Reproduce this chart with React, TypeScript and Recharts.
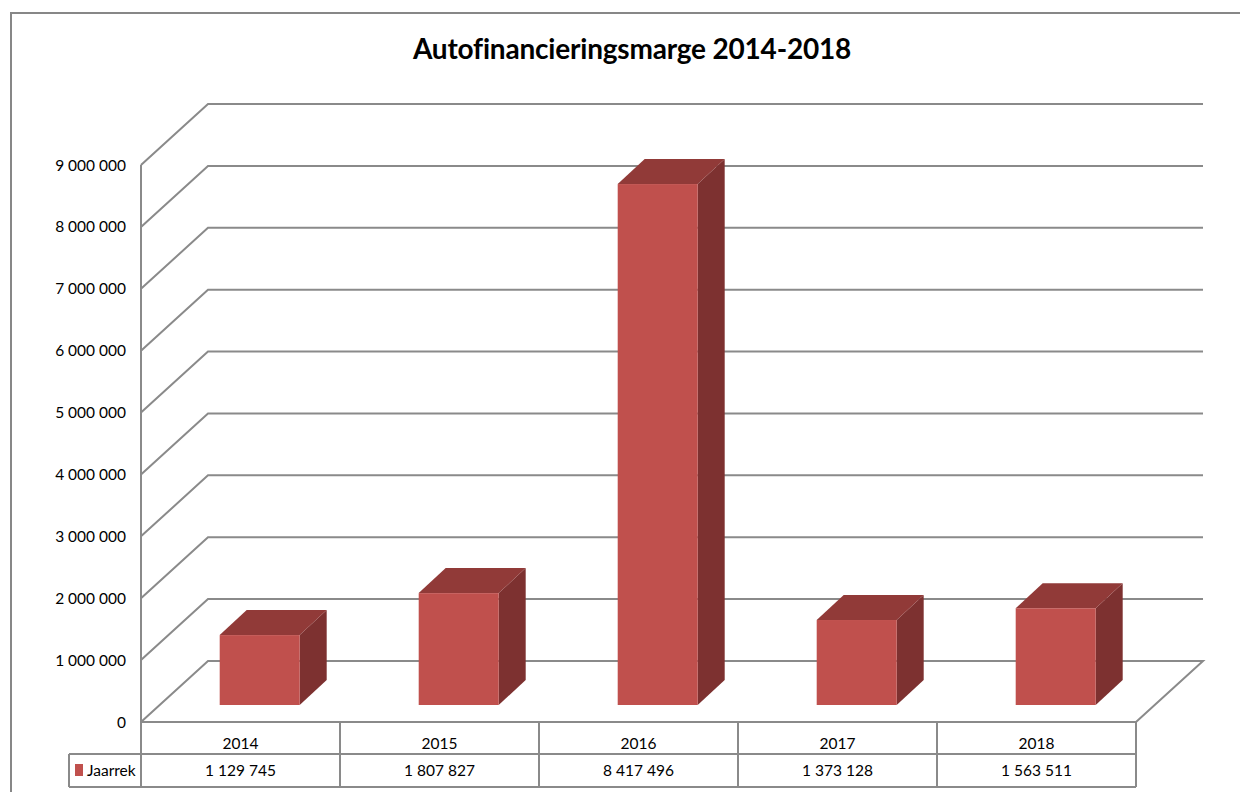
import { BarChart, Bar, XAxis, YAxis, CartesianGrid } from "recharts";

const years = ["2014", "2015", "2016", "2017", "2018"];
const jaarrek = [1129745, 1807827, 8417496, 1373128, 1563511];
const yTicks = [0, 1000000, 2000000, 3000000, 4000000, 5000000, 6000000, 7000000, 8000000, 9000000];
const seriesName = "Jaarrek";

const data = years.map((year, i) => ({ year, jaarrek: jaarrek[i] }));

// layout
const W = 1240;
const H = 792;
const PLOT_LEFT = 141;
const PLOT_RIGHT = 1136;
const PLOT_W = PLOT_RIGHT - PLOT_LEFT;
const WALL_DX = 67;
const WALL_DY = -61;
const BAR_SHIFT_X = 19;
const BAR_SHIFT_Y = -17;
const BAR_DX = 27;
const BAR_DY = -25;
const ROW_H = 32;
const LEGEND_W = 72;
const GRID = "#8a8a8a";
const FONT = "Lato, 'Open Sans', sans-serif";

const fmt = (v: number) => String(v).replace(/\B(?=(\d{3})+(?!\d))/g, " ");

function GridLine(props: any) {
  const { x1, x2, y1, index } = props;
  const bx1 = x1 + WALL_DX;
  const bx2 = x2 + WALL_DX;
  const by = y1 + WALL_DY;
  let d = `M${x1},${y1} L${bx1},${by} L${bx2},${by}`;
  if (index === 0) d += ` L${x2},${y1} L${x1},${y1}`;
  return <path key={`g-${index}`} d={d} fill="none" stroke={GRID} strokeWidth={2} />;
}

function Bar3D(props: any) {
  const { x, y, width, height } = props;
  const fx = x + BAR_SHIFT_X;
  const fy = y + BAR_SHIFT_Y;
  const fb = fy + height;
  const top = `${fx},${fy} ${fx + BAR_DX},${fy + BAR_DY} ${fx + width + BAR_DX},${fy + BAR_DY} ${fx + width},${fy}`;
  const side = `${fx + width},${fy} ${fx + width + BAR_DX},${fy + BAR_DY} ${fx + width + BAR_DX},${fb + BAR_DY} ${fx + width},${fb}`;
  return (
    <g>
      <polygon points={side} fill="#7d3130" />
      <polygon points={top} fill="#913a38" />
      <rect x={fx} y={fy} width={width} height={height} fill="#c0504d" />
    </g>
  );
}

function TableTick(props: any) {
  const { x, y, payload, index } = props;
  const colW = PLOT_W / years.length;
  const left = x - colW / 2;
  const right = x + colW / 2;
  const top = y;
  const mid = top + ROW_H;
  const bot = mid + ROW_H + 1;
  const last = index === years.length - 1;
  const first = index === 0;
  const lx = first ? left - LEGEND_W : left;
  return (
    <g>
      <line x1={left} y1={top} x2={left} y2={bot} stroke={GRID} strokeWidth={2} />
      {last && <line x1={right} y1={top} x2={right} y2={bot} stroke={GRID} strokeWidth={2} />}
      <line x1={lx} y1={mid} x2={right} y2={mid} stroke={GRID} strokeWidth={2} />
      <line x1={lx} y1={bot} x2={right} y2={bot} stroke={GRID} strokeWidth={2} />
      {first && (
        <g>
          <line x1={lx} y1={mid} x2={lx} y2={bot} stroke={GRID} strokeWidth={2} />
          <rect x={lx + 6} y={mid + 10} width={8} height={12} fill="#c0504d" />
          <text x={lx + 18} y={mid + 16} dominantBaseline="central" fontSize={15.5} fontFamily={FONT} fill="#000">
            {seriesName}
          </text>
        </g>
      )}
      <text x={x} y={top + 21} textAnchor="middle" dominantBaseline="central" fontSize={15.5} fontFamily={FONT} fill="#000">
        {payload.value}
      </text>
      <text x={x} y={mid + 16} textAnchor="middle" dominantBaseline="central" fontSize={15.5} fontFamily={FONT} fill="#000">
        {fmt(jaarrek[index])}
      </text>
    </g>
  );
}

export default function App() {
  return (
    <div style={{ position: "absolute", left: 0, top: 0, width: W, height: H, background: "#fff", overflow: "hidden", fontFamily: FONT }}>
      <div
        style={{
          position: "absolute",
          left: 10,
          top: 12,
          width: W,
          height: H,
          borderTop: "2px solid #878787",
          borderLeft: "2px solid #878787",
        }}
      />
      <div
        style={{
          position: "absolute",
          left: 0,
          width: 1264,
          top: 31,
          textAlign: "center",
          fontSize: 28,
          fontWeight: 700,
          color: "#000",
          letterSpacing: -0.2,
        }}
      >
        Autofinancieringsmarge 2014-2018
      </div>
      <div style={{ position: "absolute", left: 0, top: 0 }}>
        <BarChart
          width={W}
          height={H}
          data={data}
          barCategoryGap="30%"
          margin={{ top: 165, right: W - PLOT_RIGHT, bottom: 5, left: PLOT_LEFT - 80 }}
        >
          <CartesianGrid vertical={false} horizontal={GridLine} />
          <XAxis
            dataKey="year"
            height={65}
            axisLine={false}
            tickLine={false}
            tickSize={0}
            tickMargin={0}
            interval={0}
            tick={TableTick}
          />
          <YAxis
            width={80}
            domain={[0, 9000000]}
            ticks={yTicks}
            tickFormatter={fmt}
            axisLine={{ stroke: GRID, strokeWidth: 2 }}
            tickLine={false}
            tickSize={0}
            tickMargin={15}
            tick={{ fill: "#000", fontSize: 15.5, fontFamily: FONT }}
          />
          <Bar dataKey="jaarrek" shape={Bar3D} isAnimationActive={false} />
        </BarChart>
      </div>
    </div>
  );
}
